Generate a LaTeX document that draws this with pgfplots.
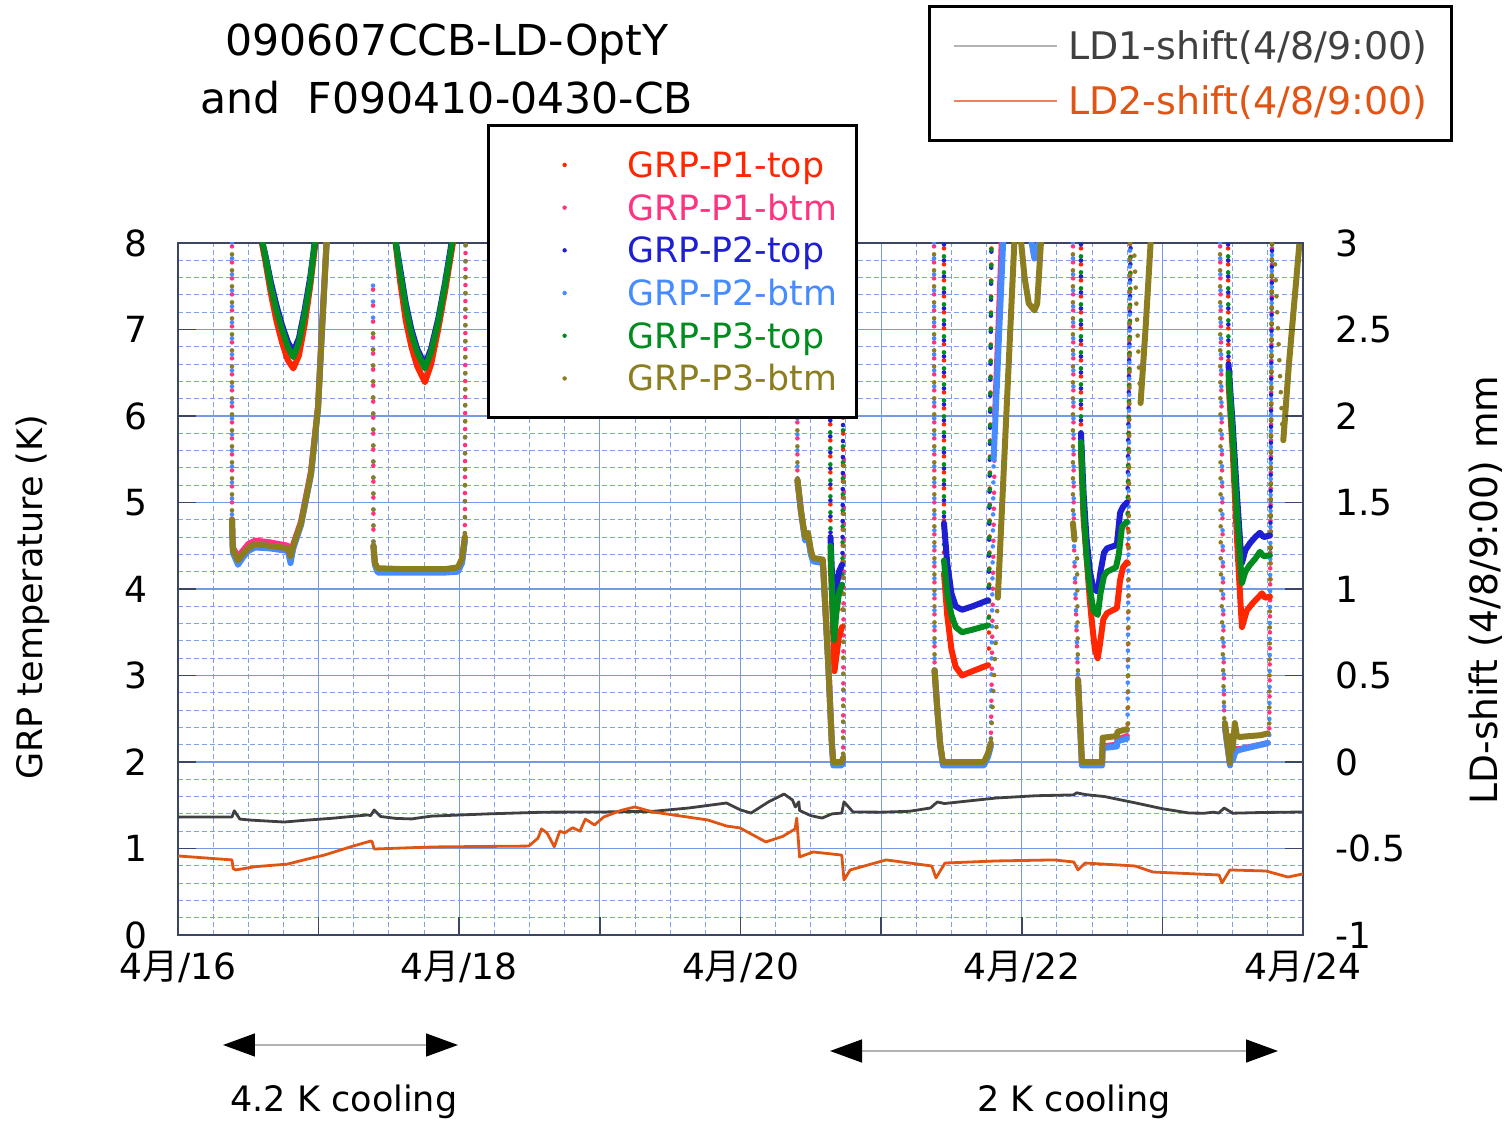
\documentclass[border=0pt]{standalone}
\usepackage{fontspec}
\setmainfont{DejaVu Sans}
\newfontfamily\cjk{Noto Sans CJK JP}
\usepackage{pgfplots}
\pgfplotsset{compat=1.18}
\usetikzlibrary{arrows.meta}

\definecolor{cP1t}{RGB}{255,38,0}
\definecolor{cP1b}{RGB}{255,51,128}
\definecolor{cP2t}{RGB}{30,30,210}
\definecolor{cP2b}{RGB}{70,140,255}
\definecolor{cP3t}{RGB}{0,140,30}
\definecolor{cP3b}{RGB}{140,125,30}
\definecolor{cLD1}{RGB}{64,64,64}
\definecolor{cLD2}{RGB}{225,85,20}
\definecolor{legLD1}{RGB}{180,180,180}
\definecolor{legLD2}{RGB}{240,130,90}
\definecolor{gridmaj}{RGB}{115,155,228}
\definecolor{gridmin}{RGB}{125,162,235}
\definecolor{axisc}{RGB}{60,70,100}

\pgfplotsset{
  grpdense/.style={line width=3pt, line join=round, line cap=round, mark=none,
    legend image code/.code={\path[draw=none,fill=none] (0pt,0pt) -- (50pt,0pt);
      \path[draw=none,fill] (28pt,0pt) circle (1.1pt);}},
  grpdots/.style={line width=2.3pt, line cap=round, dash pattern=on 0pt off 8pt, mark=none, forget plot},
}

\begin{document}
\fontsize{17.5}{21}\selectfont
\begin{tikzpicture}
% ---------- left axis: GRP temperatures ----------
\begin{axis}[
  scale only axis, width=562.5pt, height=346pt,
  xmin=0, xmax=8, ymin=0, ymax=8,
  xtick={0,...,8},
  xticklabels={4{\cjk 月}/16,,4{\cjk 月}/18,,4{\cjk 月}/20,,4{\cjk 月}/22,,4{\cjk 月}/24},
  ytick={0,...,8},
  minor x tick num=3, minor y tick num=4,
  grid=both,
  major grid style={draw=gridmaj, line width=0.6pt},
  minor grid style={draw=gridmin, line width=0.5pt, dash pattern=on 2.5pt off 1.5pt},
  tick align=inside, tick pos=left,
  major tick length=9pt, minor tick length=0pt,
  tick style={draw=axisc, line width=0.8pt},
  axis line style={draw=axisc, line width=0.9pt},
  tick label style={font=\fontsize{18}{21}\selectfont},
  /pgf/number format/assume math mode=true,
  yticklabel style={inner xsep=0pt, xshift=-15pt},
  xticklabel style={inner ysep=0pt, yshift=-8pt},
  ylabel={GRP temperature (K)},
  ylabel style={at={(axis description cs:-0.129,0.488)}, anchor=center},
  title={090607CCB-LD-OptY\\and~ F090410-0430-CB},
  title style={at={(axis description cs:0.2391,1.2348)}, anchor=center, align=center,
    font=\fontsize{21.3}{29}\selectfont},
  unbounded coords=jump,
  legend cell align=left,
  legend style={at={(0.2747,1.172)}, anchor=north west, draw=black, line width=1.6pt,
    fill=white, inner xsep=10pt, inner ysep=9pt, row sep=0pt,
    font=\fontsize{17.4}{21}\selectfont,
    nodes={inner sep=0pt, text height=16.9pt, text depth=4.45pt},
    /tikz/every odd column/.style={column sep=9.5pt}},
]
\coordinate (O) at (rel axis cs:0,0);

% sparse (fast transition) points
\addplot[grpdots, color=cP1t, dash phase=1pt] coordinates {
 (4.636,8.1)(4.64,4.4) (4.6,nan) (4.725,3.6)(4.735,8.1) (5,nan)
 (5.447,8.1)(5.447,4.18) (5.5,nan) (5.765,3.15)(5.785,8.1) (6,nan)
 (6.421,8.1)(6.421,5.6) (6.5,nan) (6.752,4.35)(6.775,8.1) (7,nan)
 (7.467,8.1)(7.47,6.4) (7.5,nan) (7.768,3.95)(7.78,8.1)};
\addplot[grpdots, color=cP1b, dash phase=2pt] coordinates {
 (0.384,8.1)(0.384,4.8) (1,nan) (1.387,7.6)(1.39,4.5) (1.5,nan) (2.04,4.6)(2.045,8.1) (3,nan)
 (4.402,8.1)(4.405,5.26) (4.5,nan) (4.73,2.03)(4.735,5.5) (5,nan)
 (5.376,8.1)(5.38,3.06) (5.5,nan) (5.78,2.2)(5.81,6.0) (6,nan)
 (6.364,8.1)(6.37,4.6)(6.40,2.95) (6.5,nan) (6.752,2.3)(6.77,8.1) (7,nan)
 (7.41,8.1)(7.44,2.4) (7.5,nan) (7.76,2.25)(7.78,8.1)};
\addplot[grpdots, color=cP2t, dash phase=3pt] coordinates {
 (4.636,8.1)(4.64,4.6) (4.6,nan) (4.725,4.3)(4.735,8.1) (5,nan)
 (5.447,8.1)(5.447,4.76) (5.5,nan) (5.765,3.9)(5.785,8.1) (6,nan)
 (6.421,8.1)(6.421,5.8) (6.5,nan) (6.752,5.05)(6.775,8.1) (7,nan)
 (7.467,8.1)(7.47,6.6) (7.5,nan) (7.768,4.65)(7.78,8.1)};
\addplot[grpdots, color=cP2b, dash phase=4pt] coordinates {
 (0.384,8.1)(0.384,4.8) (1,nan) (1.387,7.6)(1.39,4.5) (1.5,nan) (2.04,4.55)(2.045,8.1) (3,nan)
 (4.402,8.1)(4.405,5.26) (4.5,nan) (4.73,2.0)(4.735,5.5) (5,nan)
 (5.376,8.1)(5.38,3.06) (5.5,nan) (5.78,2.18)(5.80,5.5) (6,nan)
 (6.364,8.1)(6.37,4.6)(6.40,2.95) (6.5,nan) (6.752,2.27)(6.77,8.1) (7,nan)
 (7.41,8.1)(7.44,2.4) (7.5,nan) (7.76,2.22)(7.78,8.1)};
\addplot[grpdots, color=cP3t, dash phase=5pt] coordinates {
 (4.636,8.1)(4.64,4.5) (4.6,nan) (4.725,4.1)(4.735,8.1) (5,nan)
 (5.447,8.1)(5.447,4.33) (5.5,nan) (5.765,3.6)(5.785,8.1) (6,nan)
 (6.421,8.1)(6.421,5.7) (6.5,nan) (6.752,4.8)(6.775,8.1) (7,nan)
 (7.467,8.1)(7.47,6.5) (7.5,nan) (7.768,4.4)(7.78,8.1)};
\addplot[grpdots, color=cP3b, dash phase=6pt] coordinates {
 (0.384,8.1)(0.384,4.8) (1,nan) (1.387,7.0)(1.39,4.5) (1.5,nan) (2.04,4.6)(2.045,8.1) (3,nan)
 (4.402,8.1)(4.405,5.26) (4.5,nan) (4.73,2.05)(4.735,5.5) (5,nan)
 (5.376,8.1)(5.38,3.06) (5.5,nan) (5.78,2.22)(5.83,3.9) (6,nan)
 (6.364,8.1)(6.364,4.76) (6.38,nan) (6.393,4.4)(6.4,2.95) (6.5,nan)
 (6.756,2.4)(6.77,8.1) (6.79,nan) (6.80,7.9)(6.84,6.3) (7,nan)
 (7.41,8.1)(7.415,4.3)(7.44,2.5) (7.5,nan) (7.76,2.4)(7.78,8.1) (7.79,nan) (7.80,7.8)(7.855,5.8)};

% dense parts
\addplot[grpdense, color=cP1t] coordinates {
 (0.585,8.1)(0.62,7.8)(0.66,7.42)(0.70,7.1)(0.74,6.85)(0.78,6.65)(0.82,6.55)(0.86,6.7)(0.90,7.05)(0.94,7.5)(0.985,8.1) (1.2,nan)
 (1.54,8.1)(1.58,7.55)(1.62,7.1)(1.66,6.8)(1.70,6.58)(1.756,6.39)(1.80,6.6)(1.85,7.0)(1.90,7.45)(1.965,8.1) (3,nan)
 (4.64,4.4)(4.655,3.7)(4.668,3.05)(4.68,3.2)(4.70,3.45)(4.722,3.56) (5,nan)
 (5.447,4.18)(5.47,3.7)(5.50,3.3)(5.53,3.1)(5.575,3.0)(5.65,3.05)(5.76,3.12) (6,nan)
 (6.421,5.6)(6.44,4.8)(6.464,4.3)(6.485,3.85)(6.50,3.6)(6.52,3.3)(6.54,3.2)(6.555,3.35)(6.58,3.65)(6.606,3.72)(6.677,3.78)(6.699,4.1)(6.72,4.25)(6.748,4.31) (7,nan)
 (7.47,6.4)(7.50,5.6)(7.53,4.6)(7.555,3.85)(7.566,3.56)(7.60,3.75)(7.644,3.84)(7.68,3.9)(7.708,3.95)(7.73,3.9)(7.765,3.91)};
\addlegendentry{\textcolor{cP1t}{GRP-P1-top}}
\addplot[grpdense, color=cP1b] coordinates {
 (0.384,4.8)(0.39,4.48)(0.427,4.37)(0.46,4.44)(0.50,4.52)(0.548,4.56)(0.65,4.54)(0.782,4.5)(0.80,4.4)(0.82,4.52)(0.875,4.78)(0.946,5.36)(0.996,6.12)(1.02,6.9)(1.045,7.67)(1.06,8.1) (1.2,nan)
 (1.39,4.5)(1.40,4.3)(1.42,4.23)(1.6,4.22)(1.9,4.22)(1.99,4.24)(2.02,4.34)(2.04,4.6) (3,nan)
 (4.405,5.26)(4.43,4.9)(4.459,4.58)(4.48,4.62)(4.50,4.42)(4.516,4.34)(4.585,4.32)(4.59,4.2)(4.625,3.1)(4.65,2.2)(4.66,1.98)(4.72,1.98)(4.73,2.03) (5,nan)
 (5.38,3.06)(5.40,2.6)(5.42,2.2)(5.44,1.97)(5.731,1.97)(5.76,2.08)(5.78,2.2) (5.79,nan)
 (5.81,6.0)(5.86,8.1) (6,nan)
 (6.4,2.95)(6.428,1.97)(6.571,1.97)(6.575,2.18)(6.677,2.2)(6.68,2.26)(6.748,2.3) (7,nan)
 (7.445,2.4)(7.481,1.97)(7.49,2.2)(7.50,2.05)(7.52,2.15)(7.55,2.15)(7.70,2.2)(7.75,2.22)};
\addlegendentry{\textcolor{cP1b}{GRP-P1-btm}}
\addplot[grpdense, color=cP2t] coordinates {
 (0.585,8.1)(0.62,7.87)(0.66,7.55)(0.70,7.28)(0.74,7.05)(0.78,6.86)(0.82,6.74)(0.86,6.9)(0.90,7.22)(0.94,7.6)(0.98,8.1) (1.2,nan)
 (1.54,8.1)(1.58,7.7)(1.62,7.3)(1.66,7.0)(1.70,6.78)(1.756,6.59)(1.80,6.78)(1.85,7.12)(1.90,7.55)(1.955,8.1) (3,nan)
 (4.64,4.6)(4.655,4.0)(4.668,3.75)(4.68,4.0)(4.70,4.2)(4.722,4.28) (5,nan)
 (5.447,4.76)(5.47,4.3)(5.50,3.95)(5.53,3.8)(5.575,3.76)(5.65,3.8)(5.76,3.87) (6,nan)
 (6.421,5.8)(6.44,5.1)(6.46,4.6)(6.485,4.2)(6.51,4.0)(6.54,3.97)(6.56,4.2)(6.585,4.42)(6.606,4.47)(6.66,4.5)(6.677,4.52)(6.699,4.88)(6.72,4.95)(6.748,5.0) (7,nan)
 (7.47,6.6)(7.50,5.9)(7.53,5.1)(7.555,4.5)(7.566,4.3)(7.59,4.45)(7.623,4.53)(7.66,4.6)(7.694,4.65)(7.72,4.6)(7.765,4.62)};
\addlegendentry{\textcolor{cP2t}{GRP-P2-top}}
\addplot[grpdense, color=cP2b] coordinates {
 (0.384,4.8)(0.39,4.42)(0.427,4.28)(0.46,4.36)(0.50,4.44)(0.548,4.48)(0.65,4.47)(0.782,4.44)(0.80,4.3)(0.82,4.47)(0.875,4.74)(0.946,5.32)(0.996,6.08)(1.02,6.86)(1.045,7.63)(1.06,8.1) (1.2,nan)
 (1.39,4.5)(1.40,4.28)(1.42,4.19)(1.6,4.19)(1.9,4.19)(1.99,4.2)(2.02,4.3)(2.04,4.55) (3,nan)
 (4.405,5.26)(4.43,4.9)(4.459,4.56)(4.48,4.6)(4.50,4.4)(4.516,4.32)(4.585,4.3)(4.59,4.18)(4.625,3.1)(4.65,2.2)(4.66,1.96)(4.72,1.96)(4.73,2.0) (5,nan)
 (5.38,3.06)(5.40,2.6)(5.42,2.2)(5.44,1.96)(5.731,1.96)(5.76,2.06)(5.78,2.18) (5.79,nan)
 (5.80,5.5)(5.87,8.1) (6,nan)
 (6.06,8.1)(6.09,7.82)(6.14,8.1) (6.2,nan)
 (6.4,2.95)(6.428,1.96)(6.571,1.96)(6.575,2.16)(6.677,2.18)(6.68,2.24)(6.748,2.27) (7,nan)
 (7.445,2.4)(7.481,1.96)(7.49,2.18)(7.50,2.02)(7.52,2.12)(7.55,2.14)(7.70,2.2)(7.75,2.22)};
\addlegendentry{\textcolor{cP2b}{GRP-P2-btm}}
\addplot[grpdense, color=cP3t] coordinates {
 (0.59,8.1)(0.62,7.85)(0.66,7.5)(0.70,7.22)(0.74,7.0)(0.78,6.8)(0.82,6.68)(0.86,6.85)(0.90,7.17)(0.94,7.55)(0.98,8.1) (1.2,nan)
 (1.54,8.1)(1.58,7.65)(1.62,7.25)(1.66,6.95)(1.70,6.74)(1.756,6.55)(1.80,6.74)(1.85,7.08)(1.90,7.52)(1.96,8.1) (3,nan)
 (4.64,4.5)(4.655,3.8)(4.665,3.41)(4.68,3.7)(4.70,3.95)(4.722,4.05) (5,nan)
 (5.447,4.33)(5.47,3.95)(5.50,3.7)(5.53,3.56)(5.575,3.5)(5.65,3.53)(5.76,3.58) (6,nan)
 (6.421,5.7)(6.44,4.9)(6.46,4.4)(6.485,4.0)(6.51,3.75)(6.54,3.7)(6.56,3.95)(6.585,4.15)(6.606,4.2)(6.67,4.25)(6.69,4.4)(6.713,4.72)(6.748,4.78) (7,nan)
 (7.47,6.5)(7.50,5.75)(7.53,4.9)(7.555,4.3)(7.566,4.07)(7.59,4.2)(7.623,4.28)(7.66,4.35)(7.694,4.43)(7.72,4.38)(7.765,4.39)};
\addlegendentry{\textcolor{cP3t}{GRP-P3-top}}
\addplot[grpdense, color=cP3b] coordinates {
 (0.384,4.8)(0.39,4.45)(0.427,4.33)(0.46,4.4)(0.50,4.47)(0.548,4.52)(0.65,4.5)(0.782,4.47)(0.80,4.38)(0.82,4.5)(0.875,4.76)(0.946,5.34)(0.996,6.1)(1.02,6.88)(1.045,7.65)(1.06,8.1) (1.2,nan)
 (1.39,4.5)(1.40,4.3)(1.42,4.24)(1.6,4.23)(1.9,4.23)(1.99,4.25)(2.02,4.35)(2.04,4.6) (3,nan)
 (4.405,5.26)(4.43,4.9)(4.459,4.6)(4.48,4.65)(4.50,4.45)(4.516,4.36)(4.585,4.34)(4.59,4.2)(4.625,3.1)(4.65,2.2)(4.66,2.0)(4.72,2.0)(4.73,2.05) (5,nan)
 (5.38,3.06)(5.40,2.6)(5.42,2.2)(5.44,2.0)(5.731,2.0)(5.76,2.1)(5.78,2.22) (5.8,nan)
 (5.83,3.9)(5.87,5.3)(5.91,6.7)(5.95,8.1) (5.97,nan)
 (5.99,8.1)(6.02,7.6)(6.05,7.3)(6.09,7.22)(6.11,7.3)(6.14,8.1) (6.2,nan)
 (6.364,4.76)(6.375,4.57) (6.39,nan)
 (6.4,2.95)(6.428,2.0)(6.571,2.0)(6.575,2.28)(6.677,2.3)(6.68,2.35)(6.748,2.38) (6.8,nan)
 (6.845,6.15)(6.88,7.0)(6.92,8.1) (7,nan)
 (7.445,2.45)(7.481,1.99)(7.49,2.3)(7.50,2.15)(7.515,2.45)(7.53,2.3)(7.55,2.29)(7.70,2.31)(7.75,2.33) (7.8,nan)
 (7.86,5.72)(7.90,6.6)(7.98,8.1)};
\addlegendentry{\textcolor{cP3b}{GRP-P3-btm}}
\end{axis}

% ---------- right axis: LD shift ----------
\begin{axis}[
  scale only axis, width=562.5pt, height=346pt,
  xmin=0, xmax=8, ymin=-1, ymax=3,
  axis y line*=right, axis x line=none,
  ytick={-1,-0.5,0,0.5,1,1.5,2,2.5,3},
  tick align=inside, major tick length=9pt,
  tick style={draw=axisc, line width=0.8pt},
  axis line style={draw=axisc, line width=0.9pt},
  tick label style={font=\fontsize{18}{21}\selectfont},
  /pgf/number format/assume math mode=true,
  yticklabel style={inner xsep=0pt, xshift=16pt},
  ylabel={LD-shift (4/8/9:00) mm},
  ylabel style={at={(axis description cs:1.162,0.4986)}, anchor=center,
    font=\fontsize{18.8}{22}\selectfont},
  legend cell align=left,
  legend style={at={(0.6667,1.344)}, anchor=north west, draw=black, line width=1.5pt,
    fill=white, inner xsep=12pt, inner ysep=6pt, row sep=0pt,
    font=\fontsize{19}{23}\selectfont,
    nodes={inner sep=0pt, text height=20.68pt, text depth=6.82pt},
    /tikz/every odd column/.style={column sep=5pt}},
]
\addplot[color=cLD1, line width=1.4pt, line join=round,
  legend image code/.code={\draw[line width=0.8pt, draw=legLD1] (0pt,0pt) -- (51.5pt,0pt);}]
  coordinates {
 (0,-0.318)(0.384,-0.318)(0.40,-0.282)(0.44,-0.33)(0.52,-0.336)(0.755,-0.347)(0.90,-0.337)(1.1,-0.325)
 (1.35,-0.306)(1.37,-0.31)(1.395,-0.277)(1.44,-0.315)(1.55,-0.326)(1.66,-0.329)(1.80,-0.313)(2.2,-0.3)
 (2.6,-0.29)(3.0,-0.289)(3.38,-0.285)(3.63,-0.266)(3.9,-0.237)(4.0,-0.277)(4.075,-0.295)(4.2,-0.23)
 (4.31,-0.185)(4.37,-0.22)(4.39,-0.26)(4.415,-0.23)(4.42,-0.28)(4.50,-0.31)(4.58,-0.324)(4.65,-0.3)
 (4.72,-0.295)(4.736,-0.23)(4.8,-0.289)(5.0,-0.29)(5.2,-0.285)(5.35,-0.266)(5.40,-0.231)(5.45,-0.24)
 (5.82,-0.208)(6.1,-0.195)(6.37,-0.19)(6.39,-0.178)(6.45,-0.188)(6.59,-0.2)(6.8,-0.235)(7.0,-0.27)
 (7.19,-0.295)(7.3,-0.296)(7.36,-0.29)(7.40,-0.295)(7.44,-0.266)(7.50,-0.296)(7.7,-0.292)(8.0,-0.289)};
\addlegendentry{\textcolor{cLD1}{LD1-shift(4/8/9:00)}}
\addplot[color=cLD2, line width=1.4pt, line join=round,
  legend image code/.code={\draw[line width=0.8pt, draw=legLD2] (0pt,0pt) -- (51.5pt,0pt);}]
  coordinates {
 (0,-0.543)(0.384,-0.566)(0.392,-0.615)(0.41,-0.624)(0.55,-0.605)(0.78,-0.59)(0.90,-0.565)(1.04,-0.538)
 (1.245,-0.486)(1.37,-0.457)(1.38,-0.46)(1.395,-0.503)(1.6,-0.497)(1.82,-0.491)(2.2,-0.488)(2.494,-0.486)
 (2.56,-0.44)(2.585,-0.387)(2.624,-0.41)(2.676,-0.49)(2.715,-0.40)(2.75,-0.41)(2.806,-0.38)(2.858,-0.4)
 (2.897,-0.33)(2.962,-0.364)(3.027,-0.318)(3.15,-0.28)(3.248,-0.26)(3.378,-0.289)(3.767,-0.335)(3.9,-0.37)
 (3.996,-0.381)(4.18,-0.462)(4.30,-0.43)(4.388,-0.387)(4.40,-0.324)(4.42,-0.549)(4.516,-0.52)(4.72,-0.538)
 (4.736,-0.682)(4.78,-0.624)(5.035,-0.566)(5.36,-0.601)(5.39,-0.67)(5.454,-0.584)(5.817,-0.572)(6.23,-0.566)
 (6.37,-0.578)(6.40,-0.624)(6.45,-0.584)(6.805,-0.601)(6.933,-0.636)(7.403,-0.653)(7.424,-0.699)(7.48,-0.624)
 (7.737,-0.63)(7.893,-0.665)(8.0,-0.647)};
\addlegendentry{\textcolor{cLD2}{LD2-shift(4/8/9:00)}}
\end{axis}

% ---------- annotations below the axis (pixel-like units) ----------
\begin{scope}[shift={(O)}, x=0.5pt, y=-0.5pt, shift={(-178,-935)}]
  \draw[draw=gray!60, line width=0.7pt,
    {Triangle[length=16pt,width=11.5pt,color=black]}-{Triangle[length=16pt,width=11.5pt,color=black]}]
    (223,1045) -- (458,1045);
  \draw[draw=gray!60, line width=0.7pt,
    {Triangle[length=16pt,width=11.5pt,color=black]}-{Triangle[length=16pt,width=11.5pt,color=black]}]
    (830,1051) -- (1278,1051);
  \node[font=\fontsize{17.5}{21}\selectfont] at (344,1102) {4.2 K cooling};
  \node[font=\fontsize{17.5}{21}\selectfont] at (1074,1102) {2 K cooling};
  \pgfresetboundingbox
  \path[use as bounding box] (0,0) rectangle (1510,1125);
\end{scope}
\end{tikzpicture}
\end{document}
